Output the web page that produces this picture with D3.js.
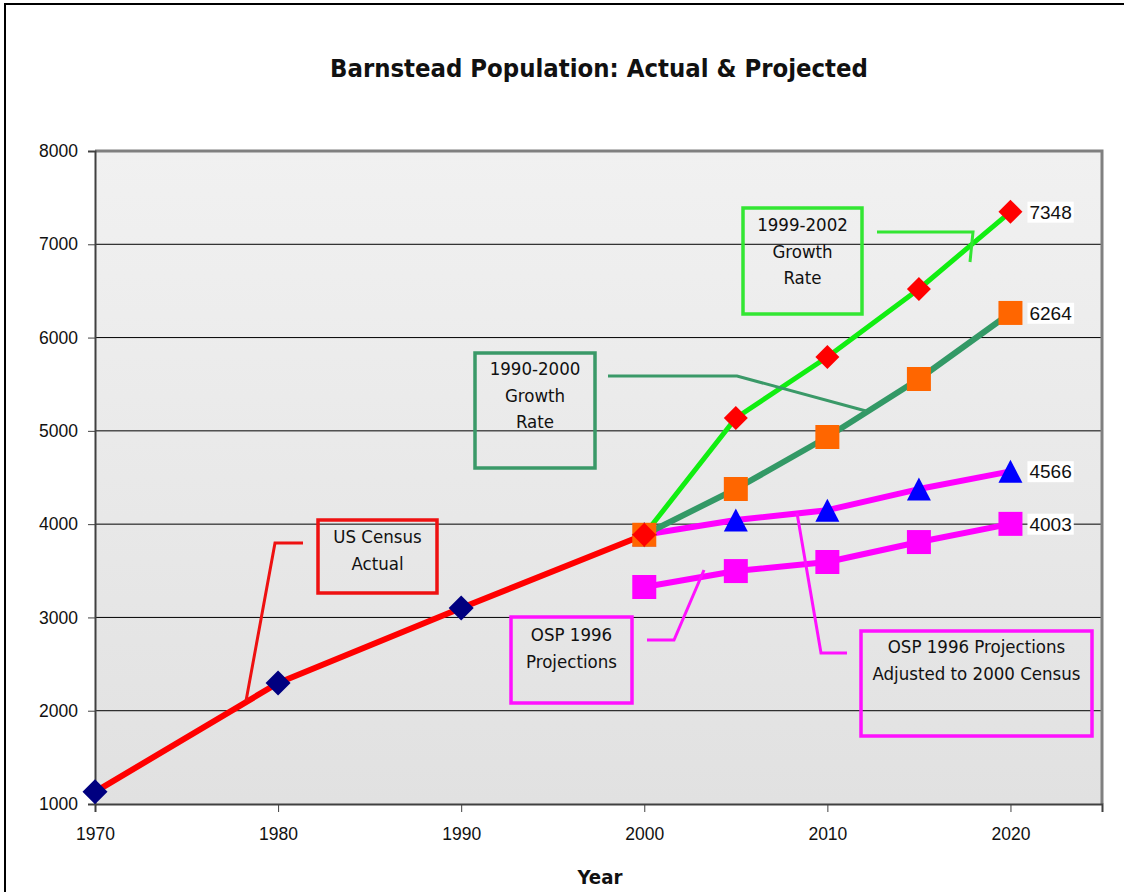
<!DOCTYPE html>
<html><head><meta charset="utf-8">
<script src="https://cdn.jsdelivr.net/npm/d3@7"></script>
<style>body{margin:0;background:#fff} svg{display:block}</style>
</head><body><svg id="c" width="1124" height="892"></svg>
<script>
// ---------- data ----------
const censusYears = [1970, 1980, 1990, 2000];
const censusActual = [1130, 2297, 3101, 3886];
const projYears = [2000, 2005, 2010, 2015, 2020];
const growth9902 = [3886, 5138, 5792, 6521, 7348];
const growth9000 = [3886, 4377, 4934, 5556, 6264];
const ospAdjusted = [3886, 4044, 4150, 4376, 4566];
const osp1996 = [3326, 3497, 3594, 3808, 4003];
const xTicks = [1970, 1980, 1990, 2000, 2010, 2020];
const yTicks = [1000, 2000, 3000, 4000, 5000, 6000, 7000, 8000];
const titleText = "Barnstead Population: Actual & Projected";
const xTitle = "Year";

// ---------- layout ----------
const svg = d3.select("#c");
const L = 95, R = 1102, T = 151, B = 804;
const x = d3.scaleLinear().domain([1970, 2025]).range([L, R]);
const y = d3.scaleLinear().domain([1000, 8000]).range([B, T]);
const annFont = "'DejaVu Sans Condensed', 'DejaVu Sans', sans-serif";

// outer frame
svg.append("rect").attr("x", 5).attr("y", 4).attr("width", 1130).attr("height", 900)
  .attr("fill", "#fff").attr("stroke", "#000").attr("stroke-width", 2);

// fit helper: scale font size so text gets a target width
function fitWidth(sel, base, target) {
  const w = sel.node().getComputedTextLength();
  sel.style("font-size", (base * target / w) + "px");
}

// title
const title = svg.append("text").attr("x", 599).attr("y", 77).attr("text-anchor", "middle")
  .style("font-family", annFont).style("font-weight", "bold").style("font-size", "22px")
  .attr("fill", "#111").text(titleText);
fitWidth(title, 22, 538);

// background gradient
const defs = svg.append("defs");
const g = defs.append("linearGradient").attr("id", "bg").attr("x1", 0).attr("y1", 0).attr("x2", 0).attr("y2", 1);
g.append("stop").attr("offset", "0%").attr("stop-color", "#f1f1f1");
g.append("stop").attr("offset", "100%").attr("stop-color", "#e1e1e1");
svg.append("rect").attr("x", L).attr("y", T).attr("width", R - L).attr("height", B - T).attr("fill", "url(#bg)");

// gridlines
svg.append("g").selectAll("line").data(yTicks.filter(v => v > 1000 && v < 8000)).join("line")
  .attr("x1", L).attr("x2", R).attr("y1", d => y(d)).attr("y2", d => y(d))
  .attr("stroke", "#000").attr("stroke-width", 1);

// plot border (top/right grey)
svg.append("path").attr("d", `M${L},${T}H${R}V${B}`).attr("fill", "none").attr("stroke", "#808080").attr("stroke-width", 3);

// axes
const yAxis = svg.append("g").attr("transform", `translate(${L},0)`)
  .call(d3.axisLeft(y).tickValues(yTicks).tickFormat(d3.format("d")).tickSize(7).tickPadding(10));
yAxis.select(".domain").attr("stroke", "#404040").attr("stroke-width", 2);
yAxis.selectAll(".tick line").attr("stroke", "#404040");
yAxis.selectAll("text").style("font-family", "'Liberation Sans', Arial").style("font-size", "17.5px").attr("fill", "#111");

const xAxis = svg.append("g").attr("transform", `translate(0,${B})`)
  .call(d3.axisBottom(x).tickValues(xTicks).tickFormat(d3.format("d")).tickSize(8).tickPadding(16));
xAxis.select(".domain").attr("stroke", "#404040").attr("stroke-width", 2);
xAxis.selectAll(".tick line").attr("stroke", "#404040");
xAxis.selectAll("text").style("font-family", "'Liberation Sans', Arial").style("font-size", "17.5px").attr("fill", "#111");

const xt = svg.append("text").attr("x", 600).attr("y", 884).attr("text-anchor", "middle")
  .style("font-family", annFont).style("font-weight", "bold").style("font-size", "20px")
  .attr("fill", "#111").text(xTitle);
fitWidth(xt, 20, 45);

// ---------- series ----------
const line = d3.line().x(d => x(d[0])).y(d => y(d[1]));
const zip = (xs, vs) => xs.map((v, i) => [v, vs[i]]);

const diamond = s => `M0,${-s}L${s},0L0,${s}L${-s},0Z`;
const square = s => `M${-s},${-s}H${s}V${s}H${-s}Z`;
const tri = (w, h) => `M0,${-h / 2}L${w / 2},${h / 2}L${-w / 2},${h / 2}Z`;

const series = [
  { pts: zip(censusYears, censusActual), color: "#ff0000", width: 6, marker: diamond(12.5), mcolor: "#000080" },
  { pts: zip(projYears, ospAdjusted), color: "#ff00ff", width: 6, marker: tri(24, 23), mcolor: "#0000ff" },
  { pts: zip(projYears, osp1996), color: "#ff00ff", width: 6, marker: square(12), mcolor: "#ff00ff" },
  { pts: zip(projYears, growth9000), color: "#339966", width: 6, marker: square(12), mcolor: "#ff6600" },
  { pts: zip(projYears, growth9902), color: "#11ee11", width: 5, marker: diamond(12), mcolor: "#ff0000" }
];
series.forEach(s => {
  svg.append("path").attr("d", line(s.pts)).attr("fill", "none").attr("stroke", s.color)
    .attr("stroke-width", s.width).attr("stroke-linejoin", "round");
});
series.forEach(s => {
  svg.append("g").selectAll("path").data(s.pts).join("path")
    .attr("transform", d => `translate(${x(d[0])},${y(d[1])})`)
    .attr("d", s.marker).attr("fill", s.mcolor);
});

// end value labels
const endLabels = [growth9902, growth9000, ospAdjusted, osp1996].map(v => [2020, v[v.length - 1]]);
endLabels.forEach(d => {
  const gg = svg.append("g");
  const r = gg.append("rect").attr("fill", "#fff");
  const t = gg.append("text").attr("x", x(d[0]) + 19).attr("y", y(d[1])).attr("dy", "0.36em")
    .style("font-family", "'Liberation Sans', Arial").style("font-size", "19px").attr("fill", "#111").text(d[1]);
  const bb = t.node().getBBox();
  r.attr("x", bb.x - 2).attr("y", bb.y).attr("width", bb.width + 4).attr("height", bb.height);
});

// ---------- callouts ----------
const callouts = [
  { lines: ["1999-2002", "Growth", "Rate"], color: "#33e633", box: [743, 208, 119, 106], ty: 231,
    leader: [[877, 232], [973, 232], [970, 262]] },
  { lines: ["1990-2000", "Growth", "Rate"], color: "#3a9968", box: [475, 353, 120, 115], ty: 375,
    leader: [[608, 376], [737, 376], [866, 411]] },
  { lines: ["US Census", "Actual"], color: "#ee1111", box: [318, 520, 119, 73], ty: 543,
    leader: [[303, 543], [275, 543], [246, 701]] },
  { lines: ["OSP 1996", "Projections"], color: "#ff11ff", box: [511, 617, 121, 86], ty: 641,
    leader: [[647, 640], [674, 640], [704, 570]] },
  { lines: ["OSP 1996 Projections", "Adjusted to 2000 Census"], color: "#ff11ff", box: [861, 631, 231, 105], ty: 653,
    leader: [[847, 653], [821, 653], [797, 513]] }
];
callouts.forEach(c => {
  svg.append("rect").attr("x", c.box[0]).attr("y", c.box[1]).attr("width", c.box[2]).attr("height", c.box[3])
    .attr("fill", "none").attr("stroke", c.color).attr("stroke-width", 3.5);
  svg.append("path").attr("d", d3.line()(c.leader)).attr("fill", "none").attr("stroke", c.color).attr("stroke-width", 3);
  c.lines.forEach((ln, i) => {
    svg.append("text").attr("x", c.box[0] + c.box[2] / 2).attr("y", c.ty + i * 26.5).attr("text-anchor", "middle")
      .style("font-family", annFont).style("font-size", "18.5px").attr("fill", "#111").text(ln);
  });
});
</script></body></html>
